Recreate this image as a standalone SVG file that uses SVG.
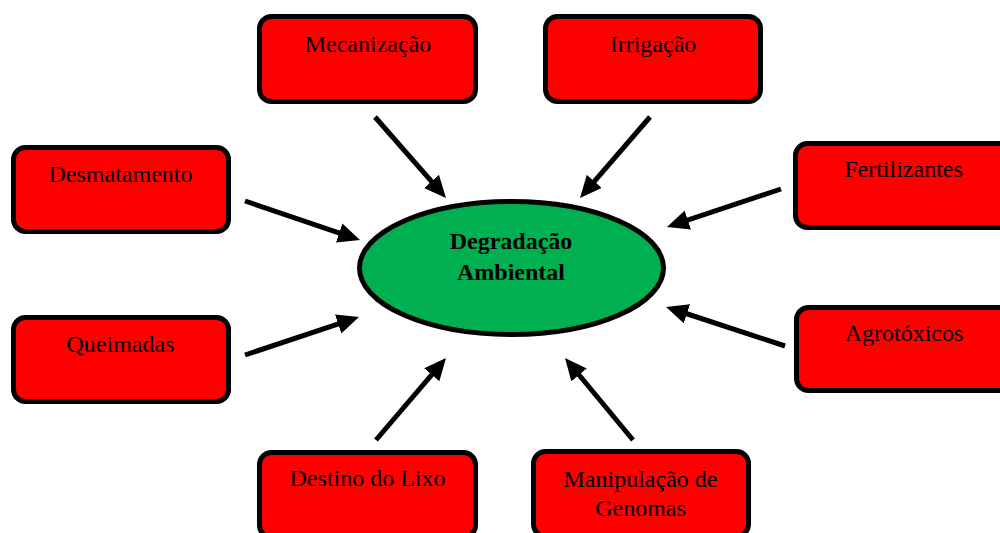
<svg xmlns="http://www.w3.org/2000/svg" width="1000" height="533" viewBox="0 0 1000 533">
<style>
.box{fill:#FF0000;stroke:#000;stroke-width:5}
.lbl{font-family:"Liberation Serif","Times New Roman",serif;font-size:24px;fill:#000;text-anchor:middle}
.ctr{font-family:"Liberation Serif","Times New Roman",serif;font-size:24px;font-weight:bold;fill:#000;text-anchor:middle}
.arr{stroke:#000;stroke-width:5;fill:none;marker-end:url(#ah)}
</style>
<defs>
<marker id="ah" viewBox="0 0 22 20" refX="9" refY="10" markerWidth="22" markerHeight="20" markerUnits="userSpaceOnUse" orient="auto">
<path d="M0,0 L22,10 L0,20 z" fill="#000"/>
</marker>
</defs>
<rect width="1000" height="533" fill="#fff"/>
<g id="connectors">
<line class="arr" x1="375" y1="117" x2="437.4" y2="188.2"/>
<line class="arr" x1="650" y1="117" x2="588.5" y2="188.2"/>
<line class="arr" x1="245" y1="201" x2="347.7" y2="235.8"/>
<line class="arr" x1="781" y1="189" x2="679.3" y2="222.9"/>
<line class="arr" x1="245" y1="355" x2="346.7" y2="321.1"/>
<line class="arr" x1="785" y1="346" x2="678.4" y2="311"/>
<line class="arr" x1="376" y1="440" x2="437.6" y2="367.9"/>
<line class="arr" x1="633" y1="440" x2="573.3" y2="368"/>
</g>
<g id="center">
<ellipse cx="511.5" cy="268" rx="152" ry="66.5" fill="#00B050" stroke="#000" stroke-width="5"/>
<text class="ctr" x="511" y="249">Degradação</text>
<text class="ctr" x="511" y="280">Ambiental</text>
</g>
<g id="mecanizacao">
<rect class="box" x="259.5" y="16.5" width="216" height="85" rx="12"/>
<text class="lbl" x="368" y="52">Mecanização</text>
</g>
<g id="irrigacao">
<rect class="box" x="545.5" y="16.5" width="215" height="85" rx="12"/>
<text class="lbl" x="653" y="52">Irrigação</text>
</g>
<g id="desmatamento">
<rect class="box" x="13.5" y="147.5" width="215" height="84" rx="12"/>
<text class="lbl" x="120.5" y="182">Desmatamento</text>
</g>
<g id="fertilizantes">
<rect class="box" x="795.5" y="143.5" width="215" height="84" rx="12"/>
<text class="lbl" x="903.5" y="177">Fertilizantes</text>
</g>
<g id="queimadas">
<rect class="box" x="13.5" y="317.5" width="215" height="84" rx="12"/>
<text class="lbl" x="120.5" y="352">Queimadas</text>
</g>
<g id="agrotoxicos">
<rect class="box" x="796.5" y="307.5" width="215" height="83" rx="12"/>
<text class="lbl" x="904" y="341">Agrotóxicos</text>
</g>
<g id="destino">
<rect class="box" x="259.5" y="452.5" width="216" height="85" rx="12"/>
<text class="lbl" x="367.5" y="486">Destino do Lixo</text>
</g>
<g id="manipulacao">
<rect class="box" x="533.5" y="451.5" width="215" height="85" rx="12"/>
<text class="lbl" x="640.5" y="487">Manipulação de</text>
<text class="lbl" x="640.5" y="516">Genomas</text>
</g>
</svg>
